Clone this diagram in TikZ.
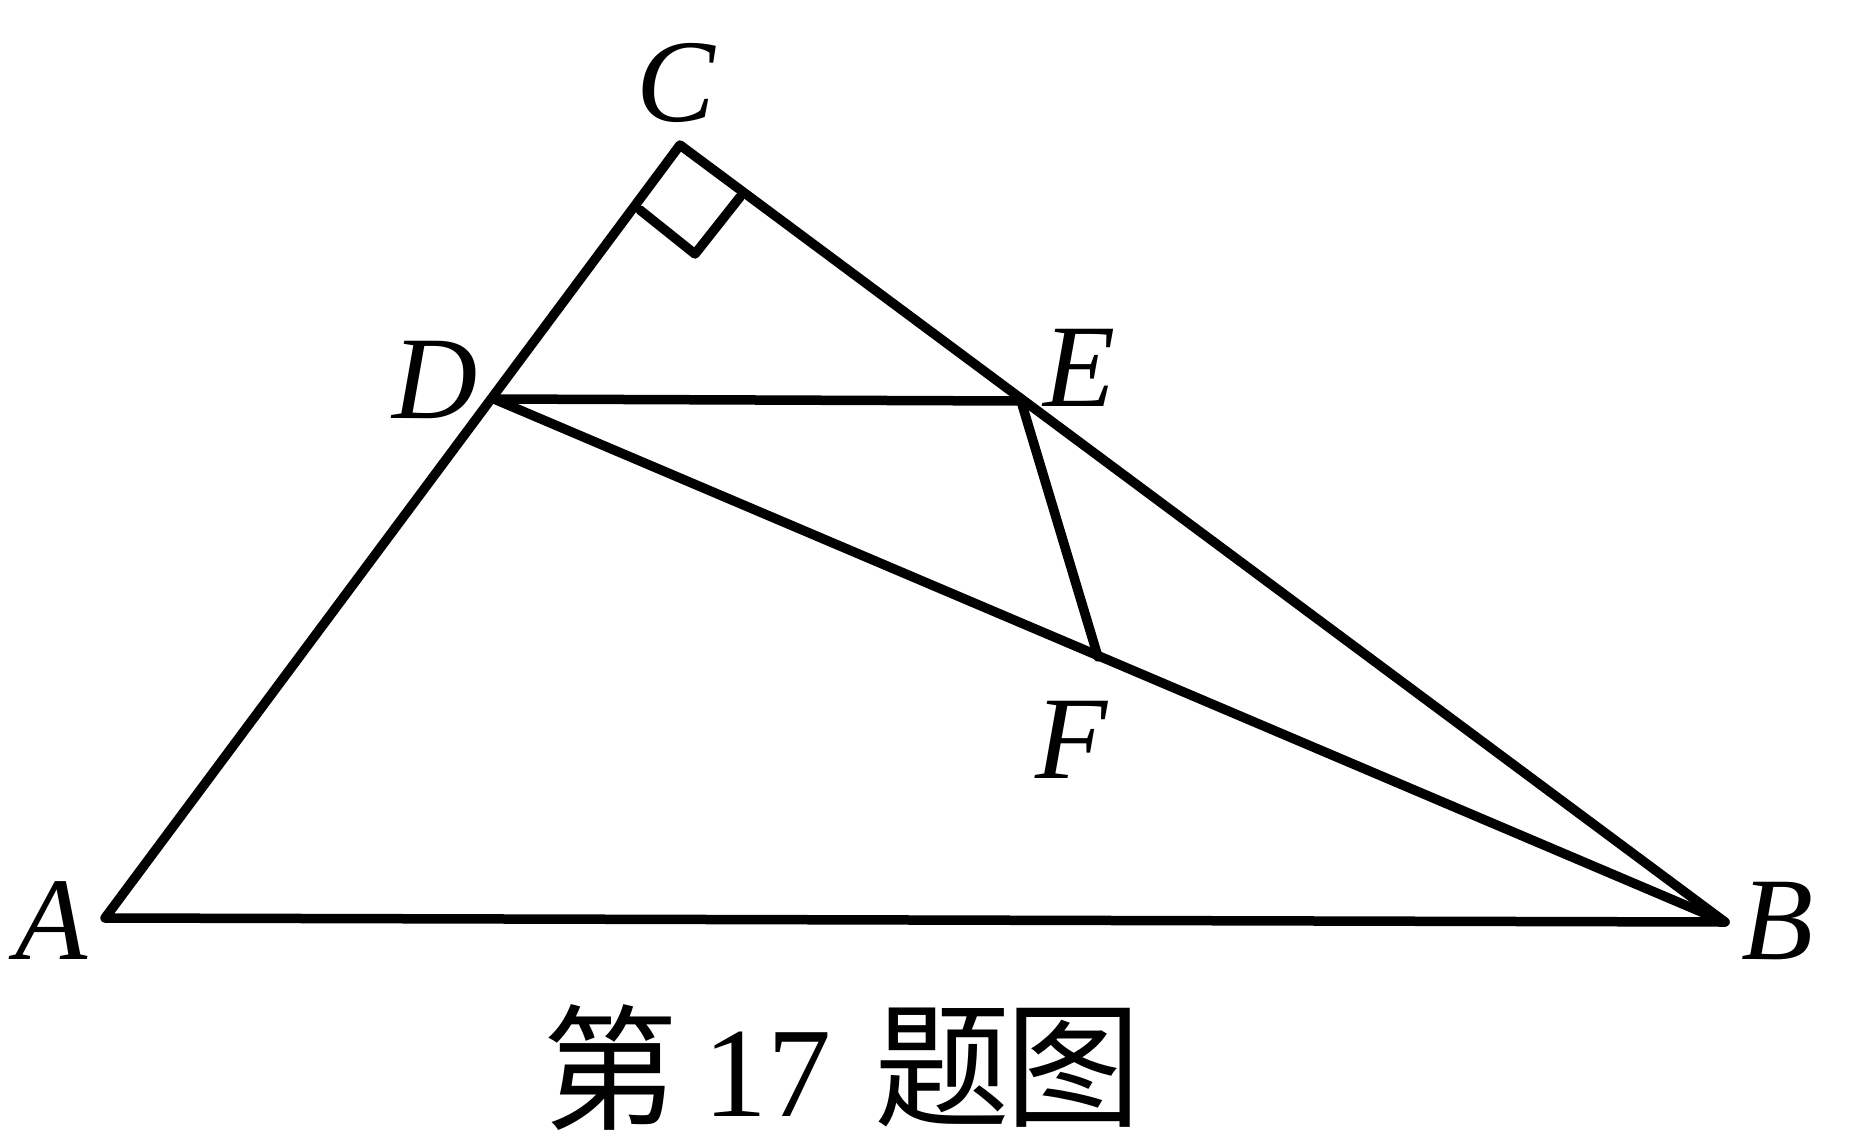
\documentclass[tikz,border=0pt]{standalone}
\usepackage{fontspec}
\setmainfont{Liberation Serif}
\newfontfamily\cjk{Noto Sans CJK SC}
\begin{document}
\begin{tikzpicture}[x=1pt,y=-1pt,
  seg/.style={line width=9.5pt,line cap=round,line join=round},
  lbl/.style={inner sep=0pt,font=\fontsize{118}{120}\selectfont\itshape},
  captxt/.style={inner sep=0pt,font=\fontsize{136}{138}\selectfont},
  capnum/.style={inner sep=0pt,font=\fontsize{128}{130}\selectfont}]
\fill[white] (0,0) rectangle (1849,1141);
\useasboundingbox (0,0) rectangle (1849,1141);
\coordinate (A) at (105,918);
\coordinate (B) at (1725,922);
\coordinate (C) at (680,145);
\coordinate (D) at (494,399);
\coordinate (E) at (1021,401);
\coordinate (F) at (1098,657);
\coordinate (R1) at (640,210);
\coordinate (R2) at (695,254);
\coordinate (R3) at (740,197);
\draw[seg] (A) -- (C) -- (B) -- cycle;
\draw[seg] (D) -- (E);
\draw[seg] (D) -- (B);
\draw[seg] (E) -- (F);
\draw[seg] (R1) -- (R2) -- (R3);
\node[lbl] (lA) at (52,921) {A};
\node[lbl] (lB) at (1778,921) {B};
\node[lbl] (lC) at (676,83) {C};
\node[lbl] (lD) at (435,380) {D};
\node[lbl] (lE) at (1080,368) {E};
\node[lbl] (lF) at (1072,740) {F};
\node[captxt] (c1) at (610,1068) {\cjk 第};
\node[capnum] (c2) at (767,1074) {17};
\node[captxt] (c3) at (942,1068) {\cjk 题};
\node[captxt] (c4) at (1073,1068) {\cjk 图};
\end{tikzpicture}
\end{document}
